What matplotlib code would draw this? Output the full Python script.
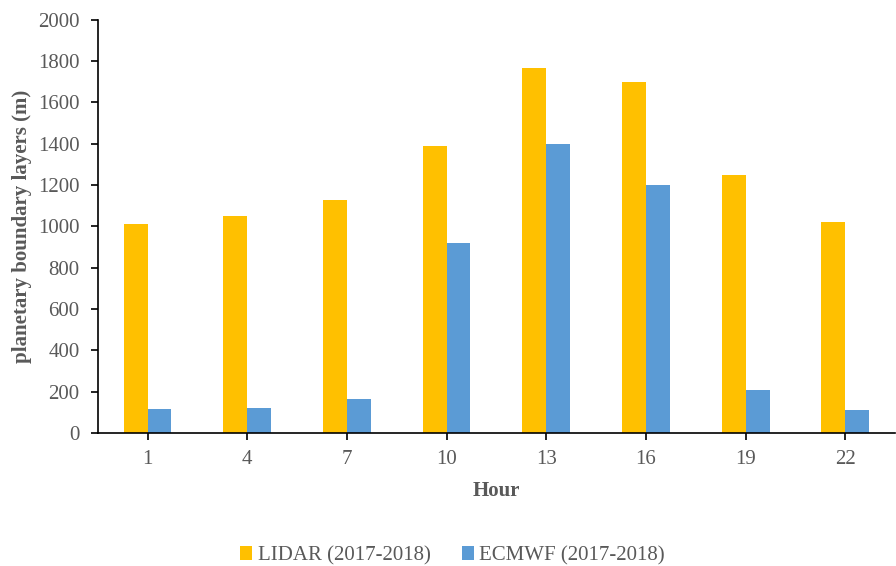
import numpy as np
import matplotlib.pyplot as plt

hours = ["1", "4", "7", "10", "13", "16", "19", "22"]
lidar = [1010, 1050, 1130, 1390, 1765, 1698, 1250, 1022]
ecmwf = [116, 121, 164, 920, 1400, 1200, 208, 111]

plt.rcParams['font.family'] = ['Liberation Serif', 'DejaVu Serif']
txt = "#595959"

fig = plt.figure(figsize=(8.96, 5.66), dpi=100)
ax = fig.add_axes([0.109, 0.235, 0.89, 0.73])

x = np.arange(len(hours))
w = 0.24
ax.bar(x - w/2, lidar, w, color="#FFC000", label="LIDAR (2017-2018)")
ax.bar(x + w/2, ecmwf, w, color="#5B9BD5", label="ECMWF (2017-2018)")

ax.set_xlim(-0.5, len(hours) - 0.5)
ax.set_ylim(0, 2000)
ax.set_yticks(np.arange(0, 2001, 200))
ax.set_xticks(x)
ax.set_xticklabels(hours)
ax.tick_params(labelsize=15, labelcolor=txt, color="black", length=5, width=1.2)
ax.tick_params(axis="x", pad=7)
ax.tick_params(axis="y", pad=8)

for s in ["top", "right"]:
    ax.spines[s].set_visible(False)
for s in ["left", "bottom"]:
    ax.spines[s].set_linewidth(1.2)

ax.set_xlabel("Hour", fontsize=15, fontweight="bold", color=txt, labelpad=9)
ax.set_ylabel("planetary boundary layers (m)", fontsize=15, fontweight="bold",
              color=txt, labelpad=4)

leg = fig.legend(loc="center", bbox_to_anchor=(0.505, 0.018), ncol=2, frameon=False,
                 fontsize=15, handlelength=0.6, handleheight=0.6, columnspacing=1.5,
                 handletextpad=0.25)
for t in leg.get_texts():
    t.set_color(txt)

fig.savefig("out.png", dpi=100)
